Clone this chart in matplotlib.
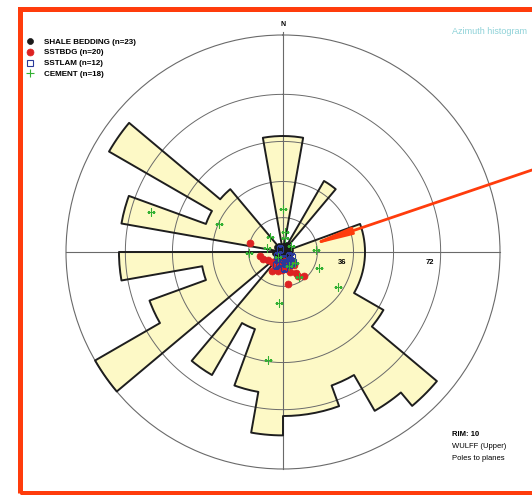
import numpy as np
import matplotlib.pyplot as plt
from matplotlib.patches import Rectangle

plt.rcParams['font.family'] = ['Liberation Sans', 'DejaVu Sans']

# azimuth rose: counts in 10 degree bins, clockwise from north
counts = [2, 0, 0, 1, 0, 0, 0, 1, 1, 1,
          1, 1, 2, 6, 5, 3, 4, 4, 5, 3,
          1, 3, 0, 7, 3, 1, 4, 0, 4, 1,
          6, 1, 0, 0, 0, 2]
bin_width = 10
rim_count = 7

# poles to planes: trend and plunge in degrees
shale_trend = [45, 326, 34, 281, 76, 236, 124, 310, 0, 45, 263, 117,
               346, 162, 326, 23, 74, 243, 158, 202, 180, 304, 104]
shale_plunge = [89.3, 88.1, 88.1, 87.3, 87.8, 88.1, 88.1, 85.9, 86.8, 86.3, 85.7, 86.5,
                87.8, 88.3, 86.2, 86.0, 86.1, 86.5, 87.2, 87.2, 88.9, 88.1, 87.8]

sstbdg_trend = [285, 260, 242, 228, 208, 196, 183, 166, 148, 142,
                149, 147, 139, 171, 211, 166, 191, 197, 160, 250]
sstbdg_plunge = [72.1, 77.7, 81.0, 82.2, 80.5, 79.6, 80.4, 81.0, 82.6, 81.0,
                 77.2, 75.2, 73.6, 73.0, 78.4, 85.0, 84.0, 82.2, 79.0, 79.0]

sstlam_trend = [239, 180, 127, 117, 201, 168, 149, 135, 209, 176, 140, 315]
sstlam_plunge = [86.0, 86.5, 86.3, 84.5, 84.0, 83.8, 82.8, 82.5, 82.0, 81.8, 84.5, 88.0]

cement_trend = [287, 294, 0, 6, 319, 284, 268, 87, 114, 123,
                147, 185, 188, 157, 8, 133, 225, 53]
cement_plunge = [25.1, 54.3, 67.6, 79.4, 79.6, 81.3, 72.2, 72.6, 69.4, 56.6,
                 74.4, 63.4, 36.6, 82.0, 82.6, 81.4, 86.3, 84.7]

ring_dips = [18, 36, 54, 72]
ring_labels = {36: '36', 72: '72'}

series = [
    ('SHALE BEDDING (n=23)', shale_trend, shale_plunge,
     dict(marker='o', ms=4.3, mfc='#1a1a1a', mec='#1a1a1a', mew=0.5)),
    ('SSTBDG (n=20)', sstbdg_trend, sstbdg_plunge,
     dict(marker='o', ms=5, mfc='#dd2222', mec='#dd2222', mew=0.5)),
    ('SSTLAM (n=12)', sstlam_trend, sstlam_plunge,
     dict(marker='s', ms=4, mfc='none', mec='#2a3a9a', mew=0.8)),
    ('CEMENT (n=18)', cement_trend, cement_plunge,
     dict(marker='+', ms=5.5, mfc='none', mec='#33b033', mew=0.8)),
]


def wulff(plunge):
    return np.tan(np.radians((90 - np.asarray(plunge, float)) / 2))


W, H = 532, 495
fig = plt.figure(figsize=(W / 100, H / 100), dpi=100)
cx, cy, R = 283, 252, 217
ax = fig.add_axes([(cx - R) / W, (H - cy - R) / H, 2 * R / W, 2 * R / H],
                  projection='polar')
ax.set_theta_zero_location('N')
ax.set_theta_direction(-1)
ax.set_ylim(0, 1)
ax.set_xticks([])
ax.set_yticks([])
ax.grid(False)
ax.spines['polar'].set_color('#6a6a6a')
ax.spines['polar'].set_linewidth(0.8)

# rose outline: each bin as an arc at equal-area radius
th, rr = [], []
for i, n in enumerate(counts):
    a = np.radians(np.linspace(i * bin_width, (i + 1) * bin_width, 8))
    th.extend(a)
    rr.extend([np.sqrt(n / rim_count)] * len(a))
th.append(th[0])
rr.append(rr[0])
ax.fill(th, rr, color='#fdf9c6', zorder=1, lw=0)

# dip rings and cross lines
full = np.linspace(0, 2 * np.pi, 361)
for d in ring_dips:
    rd = wulff(90 - d)
    ax.plot(full, np.full_like(full, rd), color='#6a6a6a', lw=0.7, zorder=2)
    if d in ring_labels:
        ax.annotate(ring_labels[d], xy=(np.pi / 2, rd), xytext=(-11, -10),
                    textcoords='offset pixels', ha='center', va='center',
                    fontsize=5.5, fontweight='bold', zorder=5)
for a in [0, 90, 180, 270]:
    ax.plot([np.radians(a)] * 2, [0, 1.015 if a == 0 else 1], color='#6a6a6a',
            lw=0.8, zorder=2, clip_on=False)

ax.plot(th, rr, color='#1e1e1e', lw=1.4, zorder=3, clip_on=False)

for label, tr, pl, style in series:
    ax.plot(np.radians(tr), wulff(pl), ls='none', label=label, zorder=4, **style)

fig.legend(loc='upper left', bbox_to_anchor=(26 / W, 1 - 38 / H),
           frameon=False, prop={'weight': 'bold', 'size': 5.8},
           handlelength=1.0, handletextpad=1.25, labelspacing=0.4,
           borderpad=0, borderaxespad=0)

fig.text(cx / W, 1 - 25 / H, 'N', ha='center', va='center', fontsize=5, fontweight='bold')
fig.text(527 / W, 1 - 32 / H, 'Azimuth histogram', ha='right', va='center',
         fontsize=6.5, color='#8ed2d8')
fig.text(452 / W, 1 - 435 / H, 'RIM: 10', ha='left', va='center', fontsize=5.5,
         fontweight='bold')
fig.text(452 / W, 1 - 446 / H, 'WULFF (Upper)', ha='left', va='center', fontsize=5.5)
fig.text(452 / W, 1 - 458 / H, 'Poles to planes', ha='left', va='center', fontsize=5.5)

# frame and pointer arrow
fig.patches.append(Rectangle((20 / W, 2 / H), 1.1, 1 - 9 / H - 2 / H,
                             transform=fig.transFigure, fill=False,
                             ec='#ff3c0c', lw=3.6, zorder=10))
ax.annotate('', xy=(np.radians(77), 0.105), xycoords='data',
            xytext=(1.0, 1 - 170 / H), textcoords='figure fraction',
            arrowprops=dict(arrowstyle='-|>,head_length=2.4,head_width=0.2',
                            color='#ff3c0c', lw=2.0, shrinkA=0, shrinkB=0,
                            mutation_scale=10),
            zorder=6, annotation_clip=False)

fig.savefig('out.png', dpi=100)
